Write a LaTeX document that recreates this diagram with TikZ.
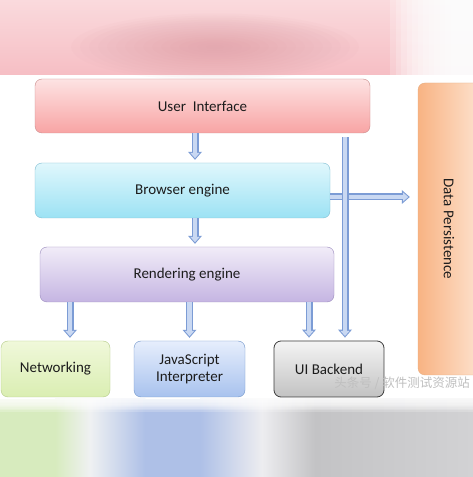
\documentclass[tikz,border=0pt]{standalone}
\usepackage{fontspec}
\setmainfont{Carlito}
\newfontfamily\wmfont{Noto Sans CJK SC}
\usetikzlibrary{arrows.meta}
\definecolor{uitop}{HTML}{FDE3E3}
\definecolor{uibot}{HTML}{F8A4A4}
\definecolor{uiline}{HTML}{C98C8C}
\definecolor{betop}{HTML}{E0F7FC}
\definecolor{bebot}{HTML}{9CE2F4}
\definecolor{beline}{HTML}{80BED2}
\definecolor{retop}{HTML}{F1ECF8}
\definecolor{rebot}{HTML}{C5B5E2}
\definecolor{reline}{HTML}{9A8BBD}
\definecolor{nettop}{HTML}{F0F8DA}
\definecolor{netbot}{HTML}{DAEEB2}
\definecolor{netline}{HTML}{B3CA86}
\definecolor{jstop}{HTML}{E6EEFC}
\definecolor{jsbot}{HTML}{A8C2EE}
\definecolor{jsline}{HTML}{7095CA}
\definecolor{uibtop}{HTML}{F4F4F4}
\definecolor{uibbot}{HTML}{C2C2C2}
\definecolor{uibline}{HTML}{3C3C3C}
\definecolor{dpleft}{HTML}{F8B383}
\definecolor{dpright}{HTML}{FDE2CE}
\definecolor{dpline}{HTML}{E6AE80}
\definecolor{arrline}{HTML}{7C9CD5}
\definecolor{arrfill}{HTML}{C9D8F2}
\definecolor{txtcol}{HTML}{1C1C1C}
\definecolor{bandA}{HTML}{FADADD}
\definecolor{bandB}{HTML}{F6BEC4}
\definecolor{bandblob}{HTML}{D9959D}
\definecolor{bgreen}{HTML}{D7EBBE}
\definecolor{bgap}{HTML}{EFF1F2}
\definecolor{bblue}{HTML}{AEC0E7}
\definecolor{bgap2}{HTML}{EDEDF0}
\definecolor{bgray}{HTML}{C3C3C5}
\definecolor{bgrayR}{HTML}{D2D2D4}

\begin{document}
\begin{tikzpicture}[x=1pt,y=1pt,font=\fontsize{15}{17}\selectfont,
  box/.style={draw, rounded corners=7pt, align=center, text=txtcol, inner sep=2pt},
  blockarr/.style={draw=arrline, line width=7pt, shorten >={#1},
    -{Triangle[length=8pt,width=14pt,line width=0pt]},
    postaction={draw=arrfill, line width=4.6pt, shorten >={#1+1.6pt},
      -{Triangle[length=5.2pt,width=9.2pt,line width=0pt]}}},
  blockarr/.default=3pt]
\useasboundingbox (0,0) rectangle (473,477);
\clip (0,0) rectangle (473,477);
\fill[white] (0,0) rectangle (473,477);
% blurred bands
\shade[top color=bandA, bottom color=bandB] (0,402) rectangle (473,477);
\foreach \r in {1,...,16}
  \fill[bandblob, opacity=0.045] (215,430) ellipse ({9*\r} and {2.1*\r});
\foreach \i in {0,...,11}
  \fill[white, opacity=0.22] ({390+5.5*\i},402) rectangle (473,477);
\fill[bgreen] (0,0) rectangle (55,78);
\shade[left color=bgreen, right color=bgap] (55,0) rectangle (90,78);
\shade[left color=bgap, right color=bblue] (90,0) rectangle (145,78);
\fill[bblue] (145,0) rectangle (200,78);
\shade[left color=bblue, right color=bgap2] (200,0) rectangle (262,78);
\shade[left color=bgap2, right color=bgray] (262,0) rectangle (315,78);
\shade[left color=bgray, right color=bgrayR] (315,0) rectangle (473,78);
\foreach \i in {0,...,9}
  \fill[white, opacity=0.2] (0,{78-1.4*\i}) rectangle (473,79);

\node[box, top color=uitop, bottom color=uibot, draw=uiline, minimum width=335pt, minimum height=54pt] (ui) at (202.5,371) {User\ \ Interface};
\node[box, top color=betop, bottom color=bebot, draw=beline, minimum width=295pt, minimum height=55pt] (be) at (182.5,286.5) {Browser engine};
\node[box, top color=retop, bottom color=rebot, draw=reline, minimum width=294pt, minimum height=55pt] (re) at (187,202.5) {Rendering engine};
\node[box, top color=nettop, bottom color=netbot, draw=netline, minimum width=109pt, minimum height=56pt] (net) at (55.5,108) {Networking};
\node[box, top color=jstop, bottom color=jsbot, draw=jsline, minimum width=111pt, minimum height=56pt] (js) at (189.5,108) {JavaScript\\Interpreter};
\node[box, top color=uibtop, bottom color=uibbot, draw=uibline, line width=0.8pt, minimum width=110pt, minimum height=56pt] (uib) at (329,108) {UI Backend};
\node[box, left color=dpleft, right color=dpright, draw=dpline, minimum width=62pt, minimum height=292pt] (dp) at (449,248) {\rotatebox{-90}{Data Persistence}};

\draw[blockarr] ([xshift=-7.5pt]ui.south) -- ([xshift=-7.5pt]ui.south |- be.north);
\draw[blockarr] ([xshift=12.5pt]be.south) -- ([xshift=12.5pt]be.south |- re.north);
\draw[blockarr] ([xshift=14.5pt]net.north |- re.south) -- ([xshift=14.5pt]net.north);
\draw[blockarr] (js.north |- re.south) -- (js.north);
\draw[blockarr] ([xshift=-20pt]uib.north |- re.south) -- ([xshift=-20pt]uib.north);
\draw[blockarr=8pt] ([yshift=-6.5pt]be.east) -- ([yshift=-6.5pt]be.east -| dp.west);
\draw[blockarr, shorten <=4pt] ([xshift=16pt]uib.north |- ui.south) -- ([xshift=16pt]uib.north);

\node[text=black!25, font=\wmfont\fontsize{12.5}{14}\selectfont] (wm) at (402,94) {头条号 / 软件测试资源站};
\end{tikzpicture}
\end{document}
